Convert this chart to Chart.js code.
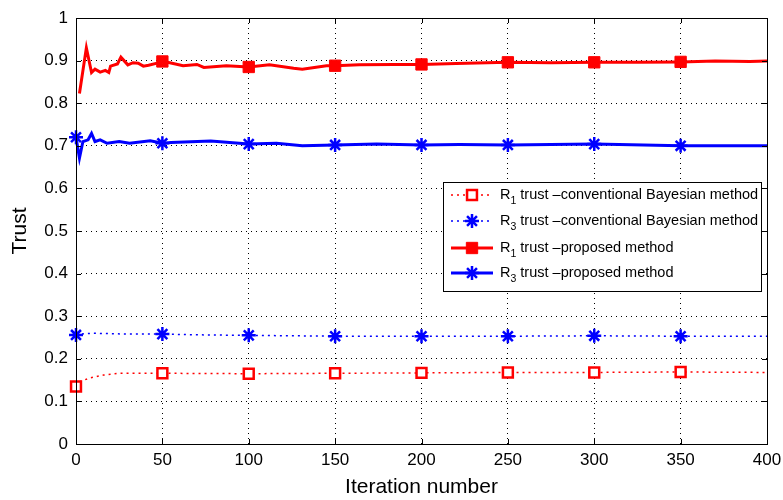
<!DOCTYPE html>
<html><head><meta charset="utf-8">
<script src="https://cdn.jsdelivr.net/npm/chart.js@4/dist/chart.umd.min.js"></script>
<style>html,body{margin:0;padding:0;background:#fff}#wrap{width:783px;height:500px;position:relative}</style>
</head><body><div id="wrap"><canvas id="c" width="783" height="500"></canvas></div>
<script>
// ---- data ----
const xTickValues = [0, 50, 100, 150, 200, 250, 300, 350, 400];
const yTickLabels = ['0', '0.1', '0.2', '0.3', '0.4', '0.5', '0.6', '0.7', '0.8', '0.9', '1'];
const markerIterations = [0, 50, 100, 150, 200, 250, 300, 350];

const r1ConvIter  = [0, 2, 8, 16, 25, 37, 50, 100, 150, 200, 250, 300, 350, 400];
const r1ConvTrust = [0.135, 0.146, 0.155, 0.162, 0.166, 0.166, 0.166, 0.165, 0.166, 0.167, 0.168, 0.168, 0.169, 0.168];

const r3ConvIter  = [0, 5, 10, 20, 30, 50, 75, 100, 150, 200, 250, 300, 350, 400];
const r3ConvTrust = [0.256, 0.259, 0.260, 0.259, 0.258, 0.258, 0.256, 0.255, 0.253, 0.253, 0.253, 0.254, 0.253, 0.253];

const r1PropIter  = [2, 6, 9, 11, 14, 17, 19, 20, 24, 26, 30, 33, 36, 39, 42, 47, 50, 53, 62, 70, 74, 87, 100, 112, 126, 131, 145, 150, 164, 184, 200, 220, 250, 275, 300, 325, 350, 370, 390, 400];
const r1PropTrust = [0.823, 0.930, 0.872, 0.880, 0.873, 0.877, 0.872, 0.887, 0.892, 0.908, 0.890, 0.895, 0.894, 0.887, 0.889, 0.894, 0.898, 0.896, 0.888, 0.891, 0.884, 0.888, 0.885, 0.890, 0.882, 0.880, 0.888, 0.888, 0.890, 0.891, 0.891, 0.893, 0.896, 0.895, 0.896, 0.896, 0.897, 0.899, 0.898, 0.899];

const r3PropIter  = [0, 2, 4, 7, 9, 11, 14, 18, 25, 31, 43, 50, 55, 78, 100, 116, 131, 150, 174, 200, 222, 250, 300, 350, 400];
const r3PropTrust = [0.720, 0.671, 0.710, 0.714, 0.729, 0.710, 0.714, 0.706, 0.710, 0.706, 0.712, 0.706, 0.708, 0.711, 0.704, 0.706, 0.700, 0.702, 0.704, 0.702, 0.703, 0.702, 0.704, 0.700, 0.700];

const legendParts = [
  ['R', '1', ' trust \u2013conventional Bayesian method'],
  ['R', '3', ' trust \u2013conventional Bayesian method'],
  ['R', '1', ' trust \u2013proposed method'],
  ['R', '3', ' trust \u2013proposed method']
];

const pts = (xs, ys) => xs.map((x, i) => ({x: x, y: ys[i]}));
const markerRadius = (r) => (ctx) => (ctx.raw && markerIterations.includes(ctx.raw.x)) ? r : 0;

const RED = '#ff0000', BLUE = '#0000ff';
const FONT = '"Liberation Sans", Arial, Helvetica, sans-serif';

const datasets = [
  {label: legendParts[0].join(''), data: pts(r1ConvIter, r1ConvTrust), borderColor: RED, borderWidth: 1.5, borderDash: [2, 4],
   pointStyle: 'rect', pointRadius: markerRadius(7), pointBackgroundColor: '#fff', pointBorderColor: RED, pointBorderWidth: 2.5, legendRadius: 7, legendFill: '#fff'},
  {label: legendParts[1].join(''), data: pts(r3ConvIter, r3ConvTrust), borderColor: BLUE, borderWidth: 1.5, borderDash: [2, 4],
   pointStyle: 'star', pointRadius: markerRadius(7), pointBackgroundColor: BLUE, pointBorderColor: BLUE, pointBorderWidth: 2.5, legendRadius: 7, legendFill: BLUE},
  {label: legendParts[2].join(''), data: pts(r1PropIter, r1PropTrust), borderColor: RED, borderWidth: 3,
   pointStyle: 'rect', pointRadius: markerRadius(8), pointBackgroundColor: RED, pointBorderColor: RED, pointBorderWidth: 1, legendRadius: 8, legendFill: RED},
  {label: legendParts[3].join(''), data: pts(r3PropIter, r3PropTrust), borderColor: BLUE, borderWidth: 3,
   pointStyle: 'star', pointRadius: markerRadius(7), pointBackgroundColor: BLUE, pointBorderColor: BLUE, pointBorderWidth: 2.5, legendRadius: 7, legendFill: BLUE}
];
datasets.forEach(d => { d.fill = false; d.tension = 0; d.clip = false; d.pointHoverRadius = 0; });

const boxPlugin = {
  id: 'boxPlugin',
  afterDraw(chart) {
    const {ctx, chartArea: a, scales} = chart;
    ctx.save();
    ctx.strokeStyle = '#000';
    ctx.lineWidth = 1;
    ctx.setLineDash([]);
    ctx.strokeRect(a.left + 0.5, a.top + 0.5, a.right - a.left, a.bottom - a.top);
    const tl = 5;
    ctx.beginPath();
    scales.x.ticks.forEach(t => {
      const px = Math.round(scales.x.getPixelForValue(t.value)) + 0.5;
      ctx.moveTo(px, a.bottom); ctx.lineTo(px, a.bottom - tl);
      ctx.moveTo(px, a.top); ctx.lineTo(px, a.top + tl);
    });
    scales.y.ticks.forEach(t => {
      const py = Math.round(scales.y.getPixelForValue(t.value)) + 0.5;
      ctx.moveTo(a.left, py); ctx.lineTo(a.left + tl, py);
      ctx.moveTo(a.right, py); ctx.lineTo(a.right - tl, py);
    });
    ctx.stroke();

    // legend box inside the plot
    const bw = 318, bh = 109;
    const bx = a.right - 6 - bw, by = a.top + 164;
    ctx.fillStyle = '#fff';
    ctx.fillRect(bx, by, bw, bh);
    ctx.strokeRect(bx + 0.5, by + 0.5, bw, bh);
    const rowY = [13, 39, 66, 91];
    chart.data.datasets.forEach((d, i) => {
      const y = by + rowY[i];
      ctx.save();
      ctx.strokeStyle = d.borderColor;
      ctx.lineWidth = d.borderWidth;
      ctx.setLineDash(d.borderDash || []);
      ctx.beginPath(); ctx.moveTo(bx + 8, y); ctx.lineTo(bx + 50, y); ctx.stroke();
      ctx.setLineDash([]);
      ctx.fillStyle = d.legendFill;
      ctx.strokeStyle = d.pointBorderColor;
      ctx.lineWidth = d.pointBorderWidth;
      Chart.helpers.drawPoint(ctx, {pointStyle: d.pointStyle, radius: d.legendRadius, rotation: 0, borderWidth: d.pointBorderWidth}, bx + 29, y);
      ctx.restore();
      const p = legendParts[i];
      ctx.fillStyle = '#000';
      ctx.textBaseline = 'middle';
      ctx.font = '14.5px ' + FONT;
      let tx = bx + 57;
      ctx.fillText(p[0], tx, y); tx += ctx.measureText(p[0]).width;
      ctx.font = '10.5px ' + FONT;
      ctx.fillText(p[1], tx, y + 6); tx += ctx.measureText(p[1]).width;
      ctx.font = '14.5px ' + FONT;
      ctx.fillText(p[2], tx, y);
    });
    ctx.restore();
  }
};

new Chart(document.getElementById('c'), {
  type: 'line',
  data: {datasets: datasets},
  options: {
    responsive: false,
    animation: false,
    events: [],
    layout: {padding: {top: 18, right: 16, left: 0, bottom: 0}},
    plugins: {legend: {display: false}, tooltip: {enabled: false}},
    scales: {
      x: {
        type: 'linear', min: 0, max: 400,
        afterBuildTicks: (s) => { s.ticks = xTickValues.map(v => ({value: v})); },
        afterFit: (s) => { s.height = 56; s.paddingLeft = 0; s.paddingRight = 0; },
        ticks: {color: '#000', font: {family: FONT, size: 17}, padding: 6, maxRotation: 0, autoSkip: false,
                callback: (v) => String(v)},
        grid: {color: '#000', lineWidth: 1, drawTicks: false},
        border: {display: false, dash: [1, 4]},
        title: {display: true, text: 'Iteration number', color: '#000', font: {family: FONT, size: 21}, padding: {top: 0, bottom: 0}}
      },
      y: {
        type: 'linear', min: 0, max: 1,
        afterBuildTicks: (s) => { s.ticks = yTickLabels.map(l => ({value: parseFloat(l)})); },
        afterFit: (s) => { s.width = 76; s.paddingTop = 0; s.paddingBottom = 0; },
        ticks: {color: '#000', font: {family: FONT, size: 17}, padding: 8, autoSkip: false,
                callback: (v, i) => yTickLabels[i]},
        grid: {color: '#000', lineWidth: 1, drawTicks: false},
        border: {display: false, dash: [1, 4]},
        title: {display: true, text: 'Trust', color: '#000', font: {family: FONT, size: 21}, padding: {top: 8, bottom: 0}}
      }
    }
  },
  plugins: [boxPlugin]
});
</script></body></html>
